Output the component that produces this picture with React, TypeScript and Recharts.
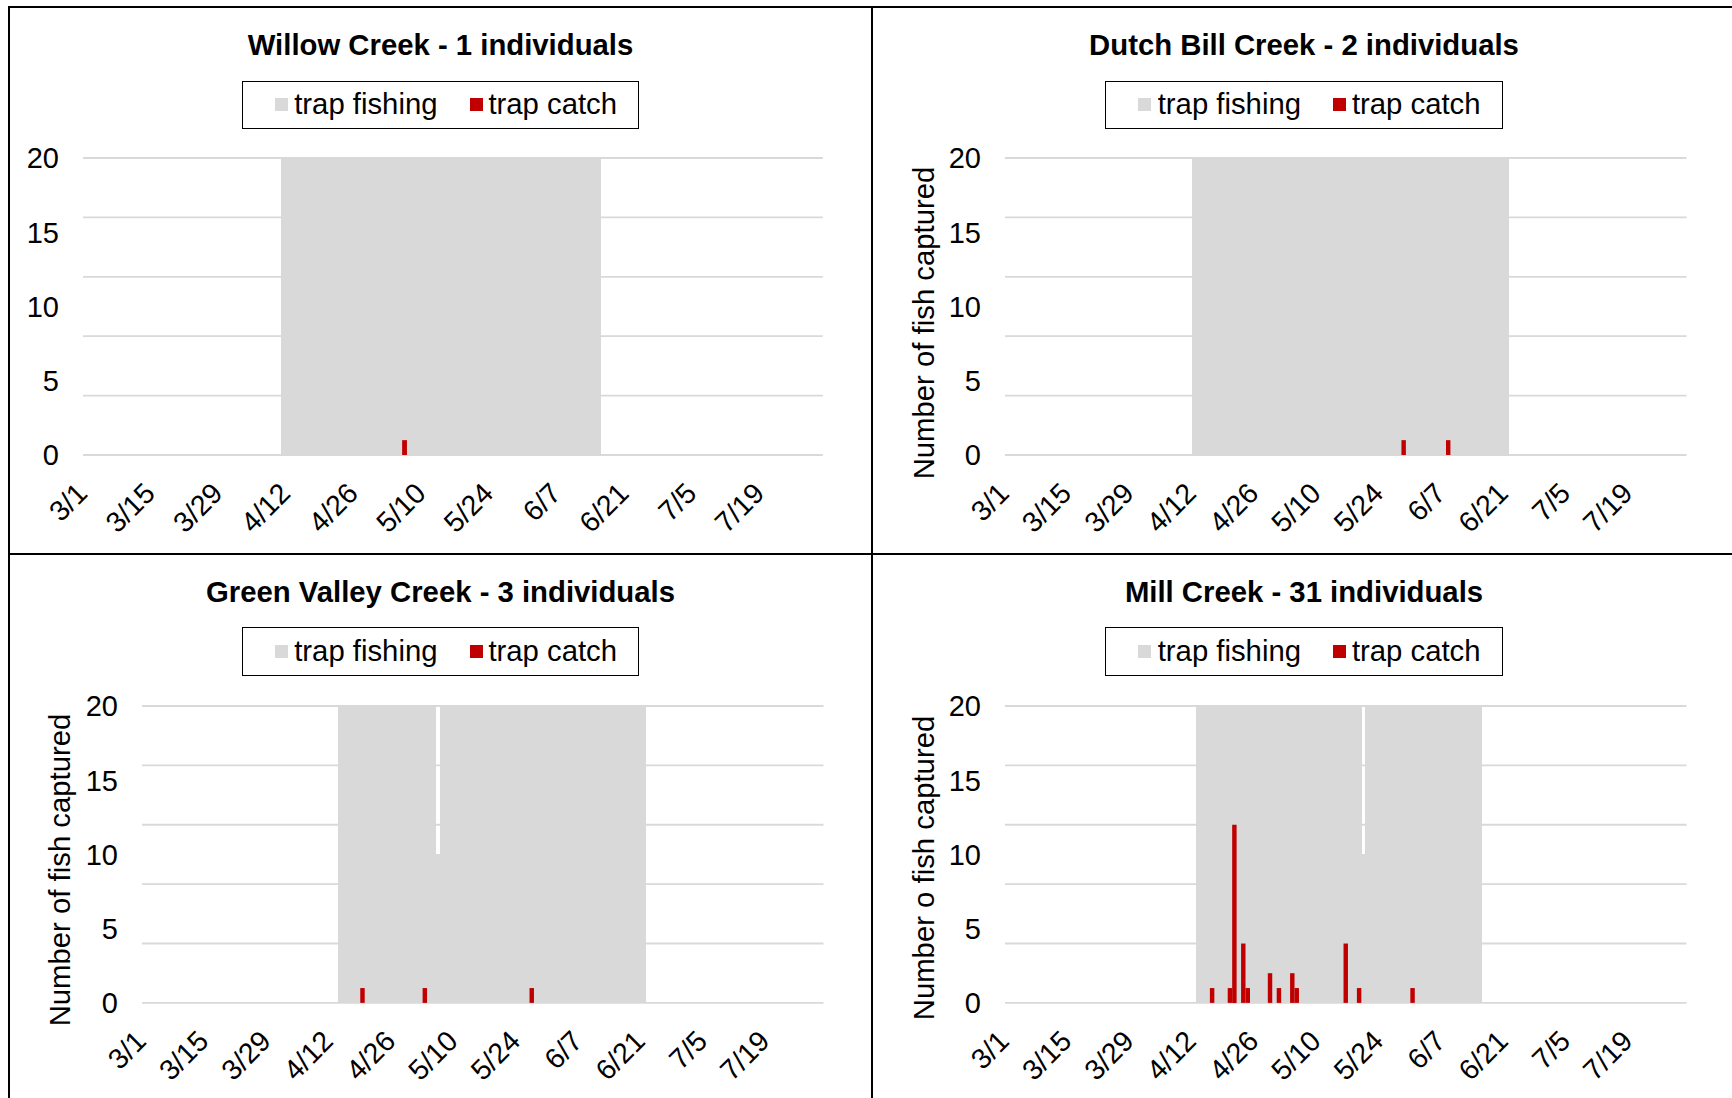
import React from 'react';
import { BarChart, Bar, XAxis, YAxis, CartesianGrid } from 'recharts';

const FONT = '"Liberation Sans", Arial, Helvetica, sans-serif';
const GRAY = '#D9D9D9';
const RED = '#C00000';

// Category axis: every day of the season, 3/1 .. 7/31
const seasonMonths: [number, number][] = [[3, 31], [4, 30], [5, 31], [6, 30], [7, 31]];
const dayLabels: string[] = seasonMonths.flatMap(([m, n]) =>
  Array.from({ length: n }, (_, i) => `${m}/${i + 1}`)
);

const xTickLabels = ['3/1', '3/15', '3/29', '4/12', '4/26', '5/10', '5/24', '6/7', '6/21', '7/5', '7/19'];
const yTickValues = [0, 5, 10, 15, 20];
const gridValues = [0, 4, 8, 12, 16, 20];
const fishingFull = 20;

// Willow Creek
const willowFishing = ['4/11', '6/15'];
const willowFishingReduced: [string, number][] = [];
const willowCatch: [string, number][] = [['5/6', 1]];

// Dutch Bill Creek
const dutchBillFishing = ['4/12', '6/21'];
const dutchBillFishingReduced: [string, number][] = [];
const dutchBillCatch: [string, number][] = [['5/29', 1], ['6/8', 1]];

// Green Valley Creek
const greenValleyFishing = ['4/14', '6/21'];
const greenValleyFishingReduced: [string, number][] = [['5/6', 10]];
const greenValleyCatch: [string, number][] = [['4/19', 1], ['5/3', 1], ['5/27', 1]];

// Mill Creek
const millFishing = ['4/13', '6/15'];
const millFishingReduced: [string, number][] = [['5/20', 10]];
const millCatch: [string, number][] = [
  ['4/16', 1], ['4/20', 1], ['4/21', 12], ['4/23', 4], ['4/24', 1], ['4/29', 2],
  ['5/1', 1], ['5/4', 2], ['5/5', 1], ['5/16', 4], ['5/19', 1], ['5/31', 1],
];

function buildRows(fishing: string[], reduced: [string, number][], catches: [string, number][]) {
  const s = dayLabels.indexOf(fishing[0]);
  const e = dayLabels.indexOf(fishing[1]);
  const reducedMap = new Map(reduced);
  const catchMap = new Map(catches);
  return dayLabels.map((day, i) => ({
    day,
    fishing: i >= s && i <= e ? (reducedMap.has(day) ? reducedMap.get(day) : fishingFull) : null,
    catch: catchMap.has(day) ? catchMap.get(day) : null,
  }));
}

const YTICK_FS = 29;
const XTICK_FS = 28.5;
const TEXT_FS = 29.3;

const YTick = (p: any) => (
  <text x={p.x - 24} y={p.y + 0.355 * YTICK_FS} textAnchor="end" fontSize={YTICK_FS} fontFamily={FONT} fill="#000">
    {p.payload.value}
  </text>
);

const XTick = (p: any) => (
  <text
    transform={`translate(${p.x + 3.5},${p.y + 40}) rotate(-45)`}
    textAnchor="end"
    fontSize={XTICK_FS}
    fontFamily={FONT}
    fill="#000"
  >
    {p.payload.value}
  </text>
);

// Adjacent daily bars touch each other (gap width 0); overlap slightly so no seams appear
const FishingBar = (p: any) =>
  p.height > 0 ? (
    <rect
      x={p.x - 0.3}
      y={p.y}
      width={p.width + 0.6}
      height={p.height}
      fill={GRAY}
      shapeRendering="crispEdges"
    />
  ) : null;

interface PanelDef {
  title: string;
  yTitle?: string;
  fishing: string[];
  reduced: [string, number][];
  catches: [string, number][];
  plotLeft: number;
  plotRight: number;
  plotTop: number;
  plotBottom: number;
  centerX: number;
  titleY: number;
  legendTop: number;
  yTitleX?: number;
  yTitleY?: number;
}

const panels: PanelDef[] = [
  {
    title: 'Willow Creek - 1 individuals',
    fishing: willowFishing, reduced: willowFishingReduced, catches: willowCatch,
    plotLeft: 83.2, plotRight: 823, plotTop: 158, plotBottom: 455,
    centerX: 440.5, titleY: 45.3, legendTop: 80.6,
  },
  {
    title: 'Dutch Bill Creek - 2 individuals',
    yTitle: 'Number of fish captured',
    fishing: dutchBillFishing, reduced: dutchBillFishingReduced, catches: dutchBillCatch,
    plotLeft: 1004.7, plotRight: 1686.2, plotTop: 158, plotBottom: 455,
    centerX: 1304, titleY: 45.3, legendTop: 80.6, yTitleX: 923.5, yTitleY: 323,
  },
  {
    title: 'Green Valley Creek - 3 individuals',
    yTitle: 'Number of fish captured',
    fishing: greenValleyFishing, reduced: greenValleyFishingReduced, catches: greenValleyCatch,
    plotLeft: 142, plotRight: 823.5, plotTop: 705.8, plotBottom: 1002.7,
    centerX: 440.5, titleY: 592, legendTop: 627.4, yTitleX: 59.6, yTitleY: 870,
  },
  {
    title: 'Mill Creek - 31 individuals',
    yTitle: 'Number o fish captured',
    fishing: millFishing, reduced: millFishingReduced, catches: millCatch,
    plotLeft: 1004.7, plotRight: 1686.2, plotTop: 705.8, plotBottom: 1002.7,
    centerX: 1304, titleY: 592, legendTop: 627.4, yTitleX: 923.5, yTitleY: 868,
  },
];

const YW = 110;
const MT = 20;
const MR = 20;
const XH = 100;

function Legend({ centerX, top }: { centerX: number; top: number }) {
  const w = 397.6;
  const h = 48.6;
  const left = centerX - w / 2;
  const sq = 13;
  const text: React.CSSProperties = {
    position: 'absolute',
    transform: 'translateY(-50%)',
    fontSize: TEXT_FS,
    lineHeight: 1,
    fontFamily: FONT,
    whiteSpace: 'nowrap',
    color: '#000',
  };
  return (
    <div
      style={{
        position: 'absolute', left, top, width: w, height: h,
        border: '1.6px solid #000', boxSizing: 'border-box', background: '#fff',
      }}
    >
      <div style={{ position: 'absolute', left: 32, top: h / 2 - sq / 2 - 1.6, width: sq, height: sq, background: GRAY }} />
      <div style={{ ...text, left: 51.5, top: h / 2 - 1.6 }}>trap fishing</div>
      <div style={{ position: 'absolute', left: 227, top: h / 2 - sq / 2 - 1.6, width: sq, height: sq, background: RED }} />
      <div style={{ ...text, left: 245.7, top: h / 2 - 1.6 }}>trap catch</div>
    </div>
  );
}

function Panel({ def }: { def: PanelDef }) {
  const plotW = def.plotRight - def.plotLeft;
  const plotH = def.plotBottom - def.plotTop;
  const band = plotW / dayLabels.length;
  const rows = buildRows(def.fishing, def.reduced, def.catches);
  const width = plotW + YW + MR;
  const height = plotH + MT + XH;
  return (
    <>
      <div style={{ position: 'absolute', left: def.plotLeft - YW, top: def.plotTop - MT, width, height }}>
        <BarChart
          width={width}
          height={height}
          data={rows}
          margin={{ top: MT, right: MR, bottom: 0, left: 0 }}
          barCategoryGap={0}
          barGap={0}
        >
          <CartesianGrid horizontal vertical={false} horizontalValues={gridValues} stroke={GRAY} strokeWidth={1.8} />
          <XAxis
            xAxisId={0}
            dataKey="day"
            type="category"
            ticks={xTickLabels}
            interval={0}
            axisLine={false}
            tickLine={false}
            tickSize={0}
            tickMargin={0}
            height={XH}
            tick={<XTick />}
          />
          <XAxis xAxisId="catch" dataKey="day" type="category" hide />
          <YAxis
            domain={[0, 20]}
            ticks={yTickValues}
            interval={0}
            axisLine={false}
            tickLine={false}
            tickSize={0}
            tickMargin={0}
            width={YW}
            tick={<YTick />}
          />
          <Bar
            xAxisId={0}
            dataKey="fishing"
            name="trap fishing"
            fill={GRAY}
            barSize={band - 0.01}
            shape={<FishingBar />}
            isAnimationActive={false}
          />
          <Bar
            xAxisId="catch"
            dataKey="catch"
            name="trap catch"
            fill={RED}
            barSize={band - 0.01}
            isAnimationActive={false}
          />
        </BarChart>
      </div>
      <div
        style={{
          position: 'absolute', left: def.centerX, top: def.titleY,
          transform: 'translate(-50%, -50%)', fontSize: TEXT_FS, lineHeight: 1,
          fontWeight: 'bold', fontFamily: FONT, whiteSpace: 'nowrap', color: '#000',
        }}
      >
        {def.title}
      </div>
      <Legend centerX={def.centerX} top={def.legendTop} />
      {def.yTitle && (
        <div
          style={{
            position: 'absolute', left: def.yTitleX, top: def.yTitleY,
            transform: 'translate(-50%, -50%) rotate(-90deg)', fontSize: TEXT_FS, lineHeight: 1,
            fontFamily: FONT, whiteSpace: 'nowrap', color: '#000',
          }}
        >
          {def.yTitle}
        </div>
      )}
    </>
  );
}

export default function App() {
  const line = (s: React.CSSProperties) => <div style={{ position: 'absolute', background: '#000', ...s }} />;
  return (
    <div style={{ position: 'absolute', left: 0, top: 0, width: 1732, height: 1098, background: '#fff', overflow: 'hidden' }}>
      {panels.map((p) => (
        <Panel key={p.title} def={p} />
      ))}
      {line({ left: 8, top: 6, width: 1724, height: 2 })}
      {line({ left: 8, top: 6, width: 2, height: 1092 })}
      {line({ left: 871, top: 6, width: 2, height: 1092 })}
      {line({ left: 8, top: 552.7, width: 1724, height: 2 })}
    </div>
  );
}
